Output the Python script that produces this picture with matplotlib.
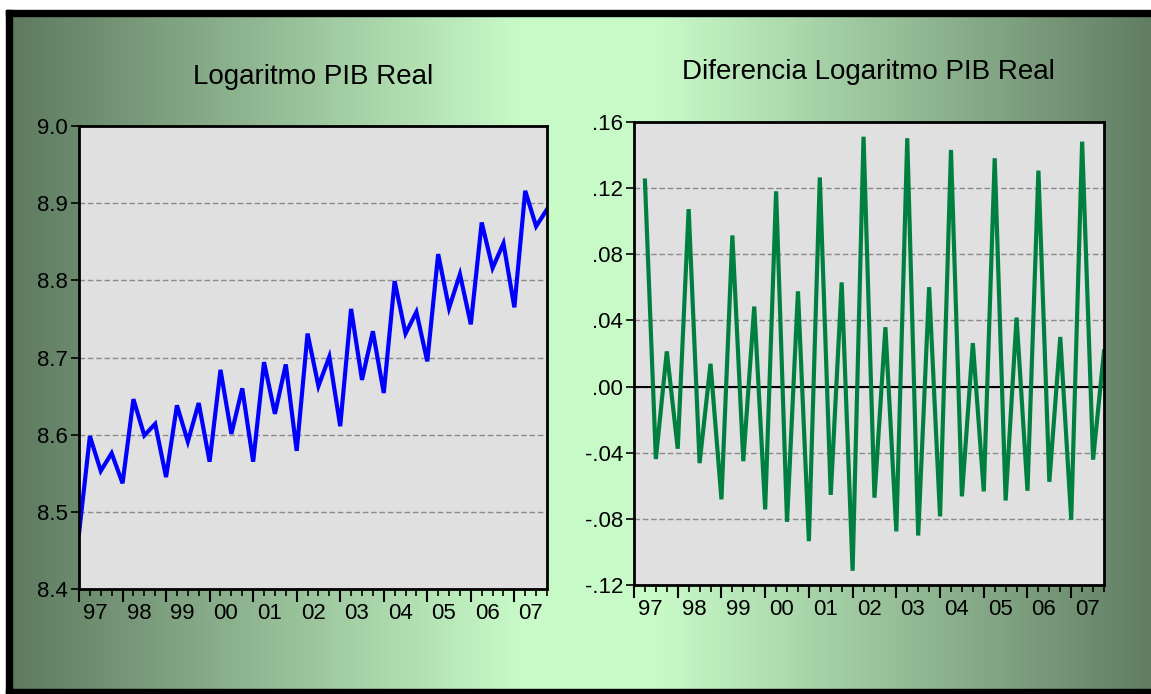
import numpy as np
import matplotlib
matplotlib.use("Agg")
import matplotlib.pyplot as plt
from matplotlib.patches import Rectangle
import matplotlib.transforms as mtransforms

plt.rcParams['font.family'] = ['Liberation Sans', 'DejaVu Sans']

# quarterly series 1997Q1 .. 2007Q4
start_year = 1997
years = list(range(1997, 2008))
year_labels = ['97', '98', '99', '00', '01', '02', '03', '04', '05', '06', '07']

log_pib = [8.472, 8.598, 8.553, 8.576, 8.537, 8.646, 8.599, 8.614,
           8.545, 8.638, 8.591, 8.641, 8.565, 8.684, 8.601, 8.660,
           8.565, 8.694, 8.627, 8.691, 8.579, 8.731, 8.663, 8.701,
           8.611, 8.763, 8.671, 8.734, 8.654, 8.799, 8.731, 8.759,
           8.695, 8.834, 8.764, 8.808, 8.743, 8.875, 8.816, 8.848,
           8.765, 8.916, 8.870, 8.892]

# first difference starts at 1997Q2
dlog_pib = [0.1246, -0.0438, 0.0213, -0.0376, 0.1073, -0.0463, 0.0138, -0.0682,
            0.0914, -0.0451, 0.0484, -0.0743, 0.1181, -0.0818, 0.0576, -0.0935,
            0.1265, -0.0655, 0.0630, -0.1114, 0.1511, -0.0672, 0.0359, -0.0876,
            0.1502, -0.0901, 0.0601, -0.0785, 0.1431, -0.0664, 0.0263, -0.0634,
            0.1381, -0.0689, 0.0417, -0.0630, 0.1306, -0.0576, 0.0300, -0.0805,
            0.1481, -0.0442, 0.0213]

left_ticks = [8.4, 8.5, 8.6, 8.7, 8.8, 8.9, 9.0]
left_ticklabels = ['8.4', '8.5', '8.6', '8.7', '8.8', '8.9', '9.0']
right_ticks = [-0.12, -0.08, -0.04, 0.00, 0.04, 0.08, 0.12, 0.16]
right_ticklabels = ['-.12', '-.08', '-.04', '.00', '.04', '.08', '.12', '.16']

t_log = start_year + np.arange(len(log_pib)) / 4.0
t_dlog = start_year + (np.arange(len(dlog_pib)) + 1) / 4.0

W, H = 1151, 694
fig = plt.figure(figsize=(W / 100, H / 100), dpi=100)

# background gradient and frame
bg = fig.add_axes([0, 0, 1, 1], zorder=-10)
bg.set_xlim(0, W)
bg.set_ylim(H, 0)
bg.axis('off')
dark = np.array([94, 122, 96]) / 255
light = np.array([200, 250, 200]) / 255
xs = np.linspace(0, W, 600)
center, half = 590, 70
d = np.clip((np.abs(xs - center) - half) / (W / 2 - half), 0, 1)
d = np.where(xs < center, np.clip((center - half - xs) / (center - half - 12), 0, 1), d)
grad = light[None, :] * (1 - d[:, None]) + dark[None, :] * d[:, None]
bg.imshow(grad[None, :, :], extent=[0, W, H, 0], aspect='auto')
bg.add_patch(Rectangle((0, 0), W, 10, color='white'))
bg.add_patch(Rectangle((0, 0), 6, H, color='white'))
bg.add_patch(Rectangle((6, 10), W, 6, color='black'))
bg.add_patch(Rectangle((6, 10), 6, H, color='black'))
bg.add_patch(Rectangle((6, 689), W, 6, color='black'))


def style_axes(ax, ticks, ticklabels):
    ax.set_facecolor('#e0e0e0')
    for s in ax.spines.values():
        s.set_linewidth(2)
        s.set_color('black')
    ax.set_xlim(start_year, start_year + 10.75)
    ax.set_yticks(ticks)
    ax.set_yticklabels(ticklabels)
    ax.set_ylim(ticks[0], ticks[-1])
    ax.set_xticks(years)
    ax.set_xticklabels([])
    ax.set_xticks(np.arange(start_year, start_year + 10.76, 0.25), minor=True)
    ax.tick_params(axis='x', which='major', length=9, width=1.5, direction='out')
    ax.tick_params(axis='x', which='minor', length=5, width=1.2, direction='out')
    ax.tick_params(axis='y', length=6, width=1.2, direction='out', labelsize=16, pad=2)
    ax.yaxis.grid(True, color='#8a8a8a', linestyle=(0, (4, 2)), linewidth=1)
    ax.set_axisbelow(True)
    trans = mtransforms.blended_transform_factory(ax.transData, ax.transAxes)
    for y, lab in zip(years, year_labels):
        ax.text(y + 0.375, -0.03, lab, transform=trans, ha='center', va='top', fontsize=16)


ax1 = fig.add_axes([79 / W, 1 - 589 / H, 468 / W, 463 / H])
style_axes(ax1, left_ticks, left_ticklabels)
ax1.plot(t_log, log_pib, color='#0000ff', linewidth=3, solid_joinstyle='miter')

ax2 = fig.add_axes([634 / W, 1 - 585 / H, 470 / W, 463 / H])
style_axes(ax2, right_ticks, right_ticklabels)
ax2.axhline(0, color='black', linewidth=1.5, zorder=1.5)
ax2.plot(t_dlog, dlog_pib, color='#008040', linewidth=3, solid_joinstyle='miter')

fig.text(313 / W, 1 - 77 / H, 'Logaritmo PIB Real', ha='center', va='center', fontsize=20)
fig.text(868 / W, 1 - 72 / H, 'Diferencia Logaritmo PIB Real', ha='center', va='center', fontsize=20)

fig.savefig('out.png', dpi=100)
